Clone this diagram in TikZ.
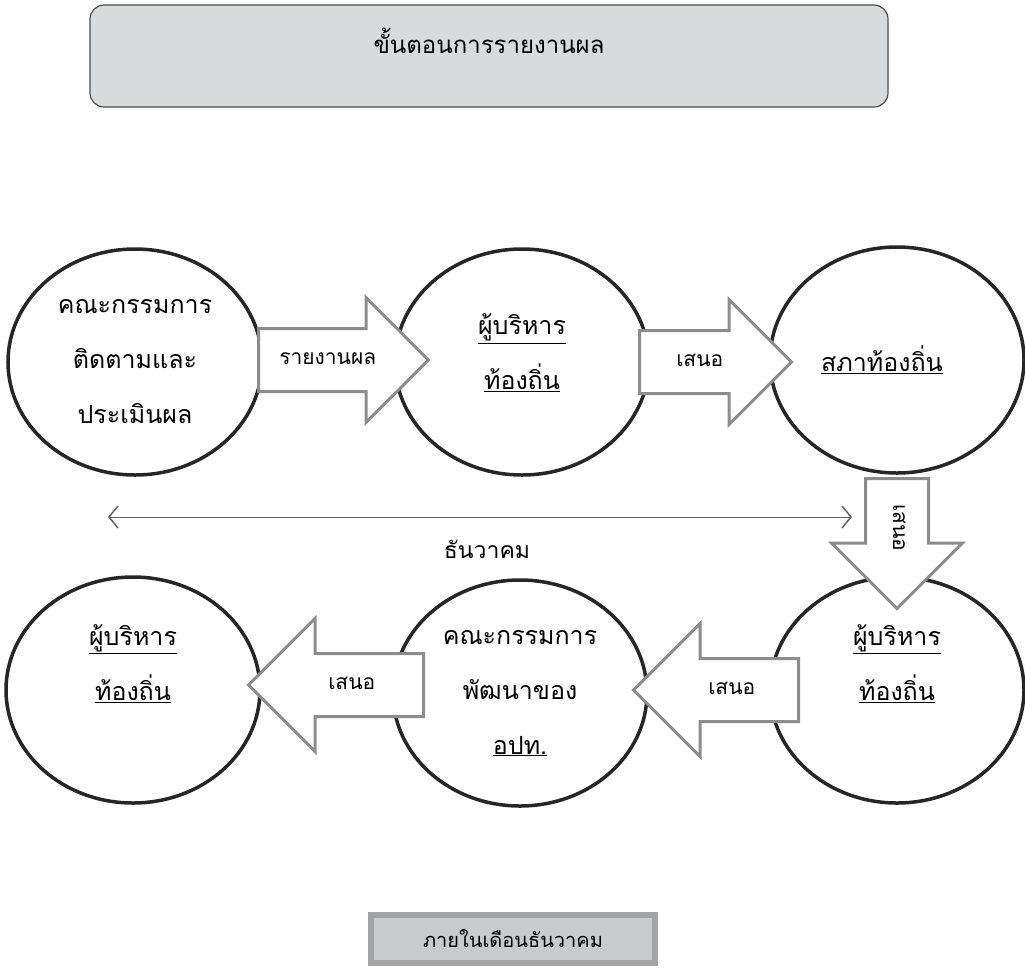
\documentclass[tikz,border=0pt]{standalone}
\usepackage{fontspec}
\newfontfamily\thaifont[Script=Thai]{Loma}
\usetikzlibrary{positioning}
\usetikzlibrary{shapes.geometric,shapes.arrows}
\usetikzlibrary{arrows.meta}
\definecolor{boxgray}{RGB}{216,219,220}
\definecolor{bandgray}{RGB}{160,164,164}
\definecolor{innergray}{RGB}{200,203,203}
\definecolor{flowgray}{RGB}{140,140,140}
\tikzstyle{stage}=[ellipse,draw=black!85,line width=3.5pt,fill=white,minimum width=254pt,minimum height=226pt,inner sep=0pt,align=center,font=\thaifont\fontsize{25}{55}\selectfont]
\tikzstyle{flow}=[single arrow,draw=flowgray,line width=3pt,fill=white,single arrow tip angle=90,text height=14pt,text depth=6pt,inner ysep=20pt,inner xsep=6pt,font=\thaifont\fontsize{21}{24}\selectfont]
\tikzstyle{titlebox}=[rectangle,rounded corners=14pt,draw=black!70,line width=1.2pt,fill=boxgray,minimum width=798pt,minimum height=102pt,text depth=30pt,font=\thaifont\fontsize{24}{28}\selectfont]
\tikzstyle{periodbox}=[rectangle,draw=bandgray,line width=6pt,fill=innergray,minimum width=284pt,minimum height=48pt,font=\thaifont\fontsize{20}{24}\selectfont]
\tikzstyle{span}=[draw=black!60,line width=1pt,{Straight Barb[length=9pt,width=22pt,line width=1.5pt]}-{Straight Barb[length=9pt,width=22pt,line width=1.5pt]}]

\begin{document}
\begin{tikzpicture}[x=1pt,y=-1pt]

  \useasboundingbox (0,0) rectangle (1025,978);

  \node[titlebox] (title) at (489,56) {ขั้นตอนการรายงานผล};

  % stages
  \foreach \x/\y/\name/\label in {135/362/monitor/{คณะกรรมการ\\ติดตามและ\\ประเมินผล},
                                  522/362/exectop/{\underline{ผู้บริหาร}\\\underline{ท้องถิ่น}\\[-35pt]\mbox{}},
                                  897/360/council/{\underline{สภาท้องถิ่น}\hspace*{30pt}},
                                  897/690/execright/{\underline{ผู้บริหาร}\\\underline{ท้องถิ่น}\\\mbox{}},
                                  520/693/devboard/{คณะกรรมการ\\พัฒนาของ\\\underline{อปท.}},
                                  133/690/execleft/{\underline{ผู้บริหาร}\\\underline{ท้องถิ่น}\\\mbox{}}}
          \node[stage] (\name) at (\x,\y) {\label};

  % block arrows
  \foreach \x/\y/\name/\len/\ext/\turn/\tilt/\label in {257/360/report/170/31/0/0/รายงานผล,
                                                      638/362/propA/152/31/0/0/เสนอ,
                                                      897/477/propB/130/34/0/-90/เสนอ,
                                                      800/690/propC/165/35/180/0/เสนอ,
                                                      425/685/propD/175/35/180/0/เสนอ}
          \node[flow,anchor=tail,minimum height=\len pt,single arrow head extend=\ext pt,shape border rotate=\turn,rotate=\tilt] (\name) at (\x,\y) {\label};

  \coordinate (decfrom) at (108,517);
  \coordinate (decto) at (852,517);
  \draw[span] (decfrom) -- node[yshift=-32pt,xshift=7pt,font=\thaifont\fontsize{23}{27}\selectfont] (month) {ธันวาคม} (decto);

  \node[periodbox] (period) at (513,939) {ภายในเดือนธันวาคม};

\end{tikzpicture}
\end{document}
